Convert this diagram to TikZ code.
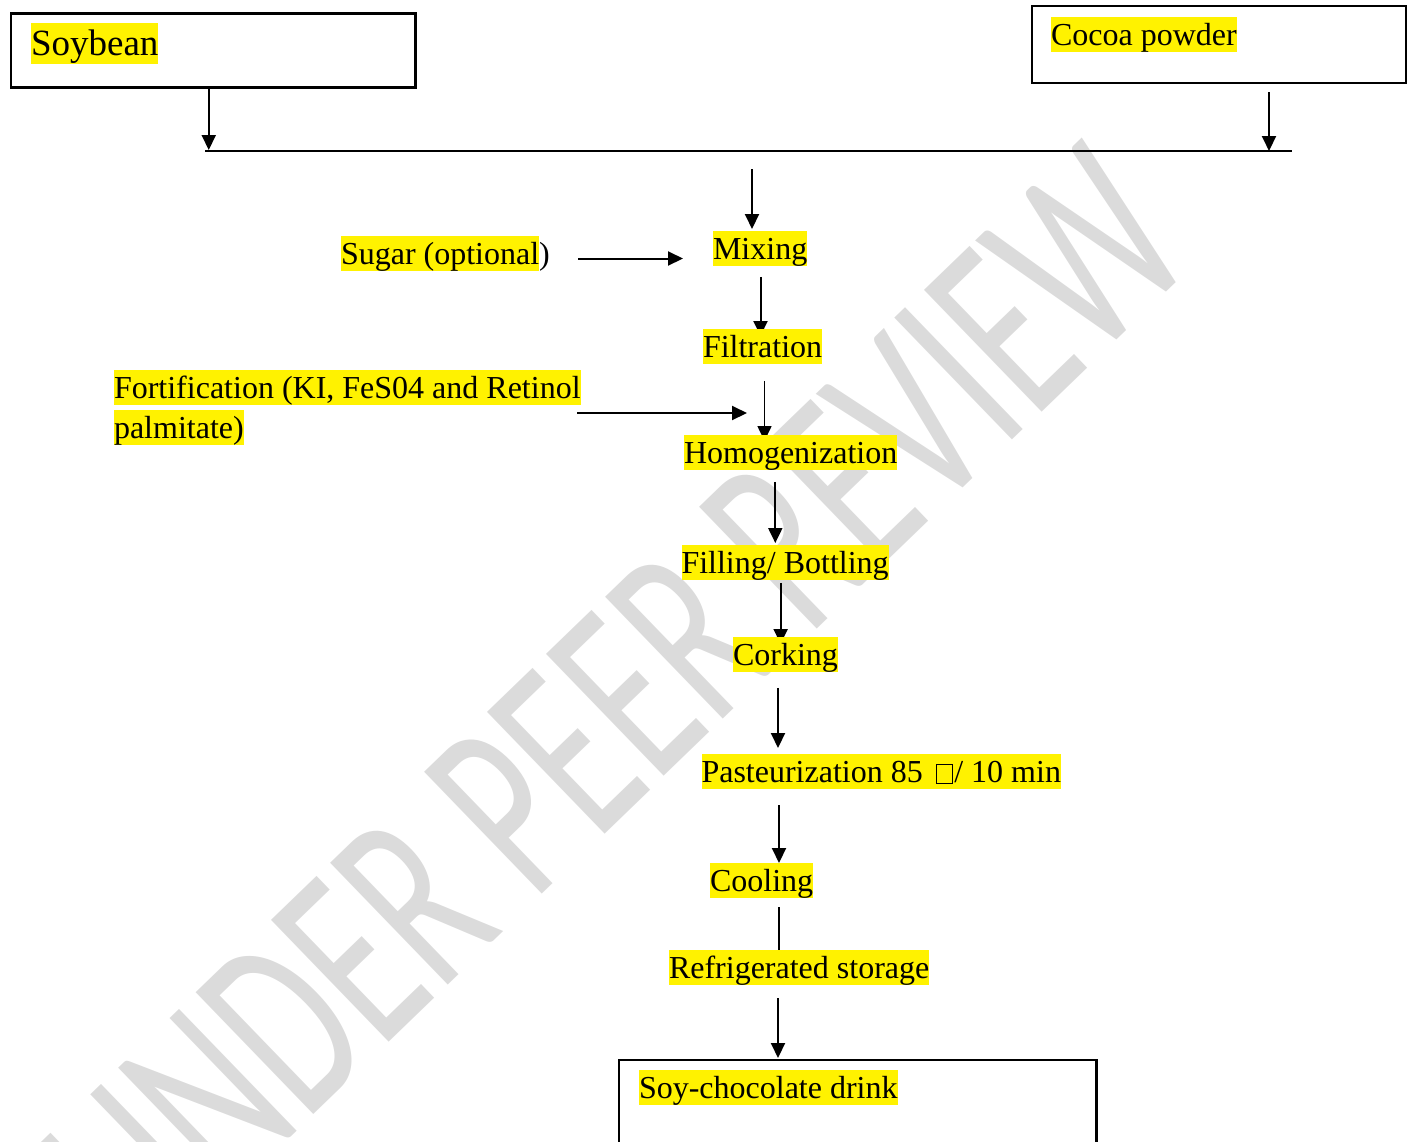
\documentclass[tikz,border=0pt]{standalone}
\usepackage{fontspec}
\setmainfont{Liberation Serif}
\newfontfamily\wmfont{Carlito}
\usetikzlibrary{arrows.meta}
\pgfdeclarelayer{wm}
\pgfdeclarelayer{bg}
\pgfsetlayers{wm,bg,main}
\setlength{\fboxsep}{0pt}
\newcommand\hlite[1]{\colorbox{yellow}{\rule[-0.216em]{0pt}{1.107em}#1}}
\newcommand\tofu{\kern0.17em{\fboxrule=0.9pt\fbox{\rule{0pt}{0.54em}\kern0.46em}}\kern0.05em}
\newcommand\fsmain{\fontsize{32}{40}\selectfont}
\newcommand\fsbig{\fontsize{37}{44}\selectfont}
\begin{document}
\begin{tikzpicture}[x=1pt,y=1pt,
  hl/.style={anchor=north west, inner sep=0pt, outer sep=0pt, font=\fsmain},
  boxframe/.style={draw, line width=2.3pt, anchor=north west, inner sep=0pt, outer sep=0pt},
  arr/.style={line width=2pt, -{Triangle[length=15pt,width=14pt]}},
  thinarr/.style={line width=1.6pt, -{Triangle[length=15pt,width=14pt]}},
  bar/.style={line width=2.3pt}]
\useasboundingbox (0,0) rectangle (1415,-1141);

% boxes and labels
\node[boxframe, minimum width=404.5pt, minimum height=74pt] (soybox) at (11,-13.5) {};
\node[hl, font=\fsbig] (soy) at (31,-23) {\hlite{Soybean}};
\node[boxframe, minimum width=374pt, minimum height=77pt] (cocbox) at (1032,-6) {};
\node[hl] (cocoa) at (1051,-16.5) {\hlite{Cocoa powder}};
\coordinate (busL) at (205,-151);
\coordinate (busR) at (1292,-151);
\node[hl] (sugar) at (341,-236) {\hlite{Sugar (optional})};
\node[hl] (mix) at (713,-231) {\hlite{Mixing}};
\node[hl] (filt) at (703,-328.5) {\hlite{Filtration}};
\node[hl, align=left] (fort) at (114,-369.5) {\hlite{Fortification (KI, FeS04 and Retinol}\\\hlite{palmitate)}};
\node[hl] (homo) at (684,-435) {\hlite{Homogenization}};
\node[hl] (fill) at (681.5,-545) {\hlite{Filling/ Bottling}};
\node[hl] (cork) at (733,-636.5) {\hlite{Corking}};
\node[hl] (past) at (701.5,-754) {\hlite{Pasteurization 85 \tofu/ 10 min}};
\node[hl] (cool) at (710,-863) {\hlite{Cooling}};
\node[hl] (refr) at (669,-950) {\hlite{Refrigerated storage}};
\node[boxframe, minimum width=477.5pt, minimum height=130pt] (soycbox) at (619,-1060) {};
\node[hl] (soyc) at (639,-1070) {\hlite{Soy-chocolate drink}};

% connector x positions / free ends
\coordinate (c1) at (752,-169);
\coordinate (x2) at (760.5,0);
\coordinate (x3) at (764.5,0);
\coordinate (x4) at (775.3,0);
\coordinate (x5) at (780.6,0);
\coordinate (x6) at (778,0);
\coordinate (x7) at (779,0);
\coordinate (x8) at (779,0);
\coordinate (x9) at (778,0);
\coordinate (sg) at (578,-258.5);
\coordinate (ft) at (577,-413);

\begin{pgfonlayer}{bg}
\draw[bar] (busL) -- (busR);
\draw[arr] ([xshift=-4.5pt]soybox.south) -- ([xshift=-4.5pt,yshift=1pt]soybox.south |- busL);
\draw[arr] ([xshift=50pt,yshift=-9pt]cocbox.south) -- ([xshift=50pt]cocbox.south |- busR);
\draw[arr] (c1) -- ([yshift=2pt]c1 |- mix.north);
\draw[arr] (sg) -- ([xshift=-30pt]sg -| mix.west);
\draw[arr] ([yshift=-10.5pt]x2 |- mix.south) -- ([yshift=-7.5pt]x2 |- filt.north);
\draw[arr] (ft) -- ([xshift=-17.5pt]ft -| x3);
\draw[thinarr] ([yshift=-17pt]x3 |- filt.south) -- ([yshift=-6pt]x3 |- homo.north);
\draw[arr] ([yshift=-11.5pt]x4 |- homo.south) -- ([yshift=2pt]x4 |- fill.north);
\draw[arr] ([yshift=-2.5pt]x5 |- fill.south) -- ([yshift=-7.5pt]x5 |- cork.north);
\draw[arr] ([yshift=-16pt]x6 |- cork.south) -- ([yshift=6pt]x6 |- past.north);
\draw[arr] ([yshift=-15.6pt]x7 |- past.south) -- (x7 |- cool.north);
\draw[line width=1.6pt] ([yshift=-8.6pt]x8 |- cool.south) -- (x8 |- refr.north);
\draw[arr] ([yshift=-12.6pt]x9 |- refr.south) -- ([yshift=2pt]x9 |- soycbox.north);
\end{pgfonlayer}

% watermark
\begin{pgfonlayer}{wm}
\begin{scope}[shift={(616,-705)}, rotate=44, xscale=0.64]
\node[transform shape, inner sep=0pt, text=black!14, font=\wmfont\fontsize{264}{264}\selectfont, text height=170pt, text depth=0pt] (wm) at (0,0) {UNDER PEER REVIEW};
\end{scope}
\end{pgfonlayer}
\end{tikzpicture}
\end{document}
